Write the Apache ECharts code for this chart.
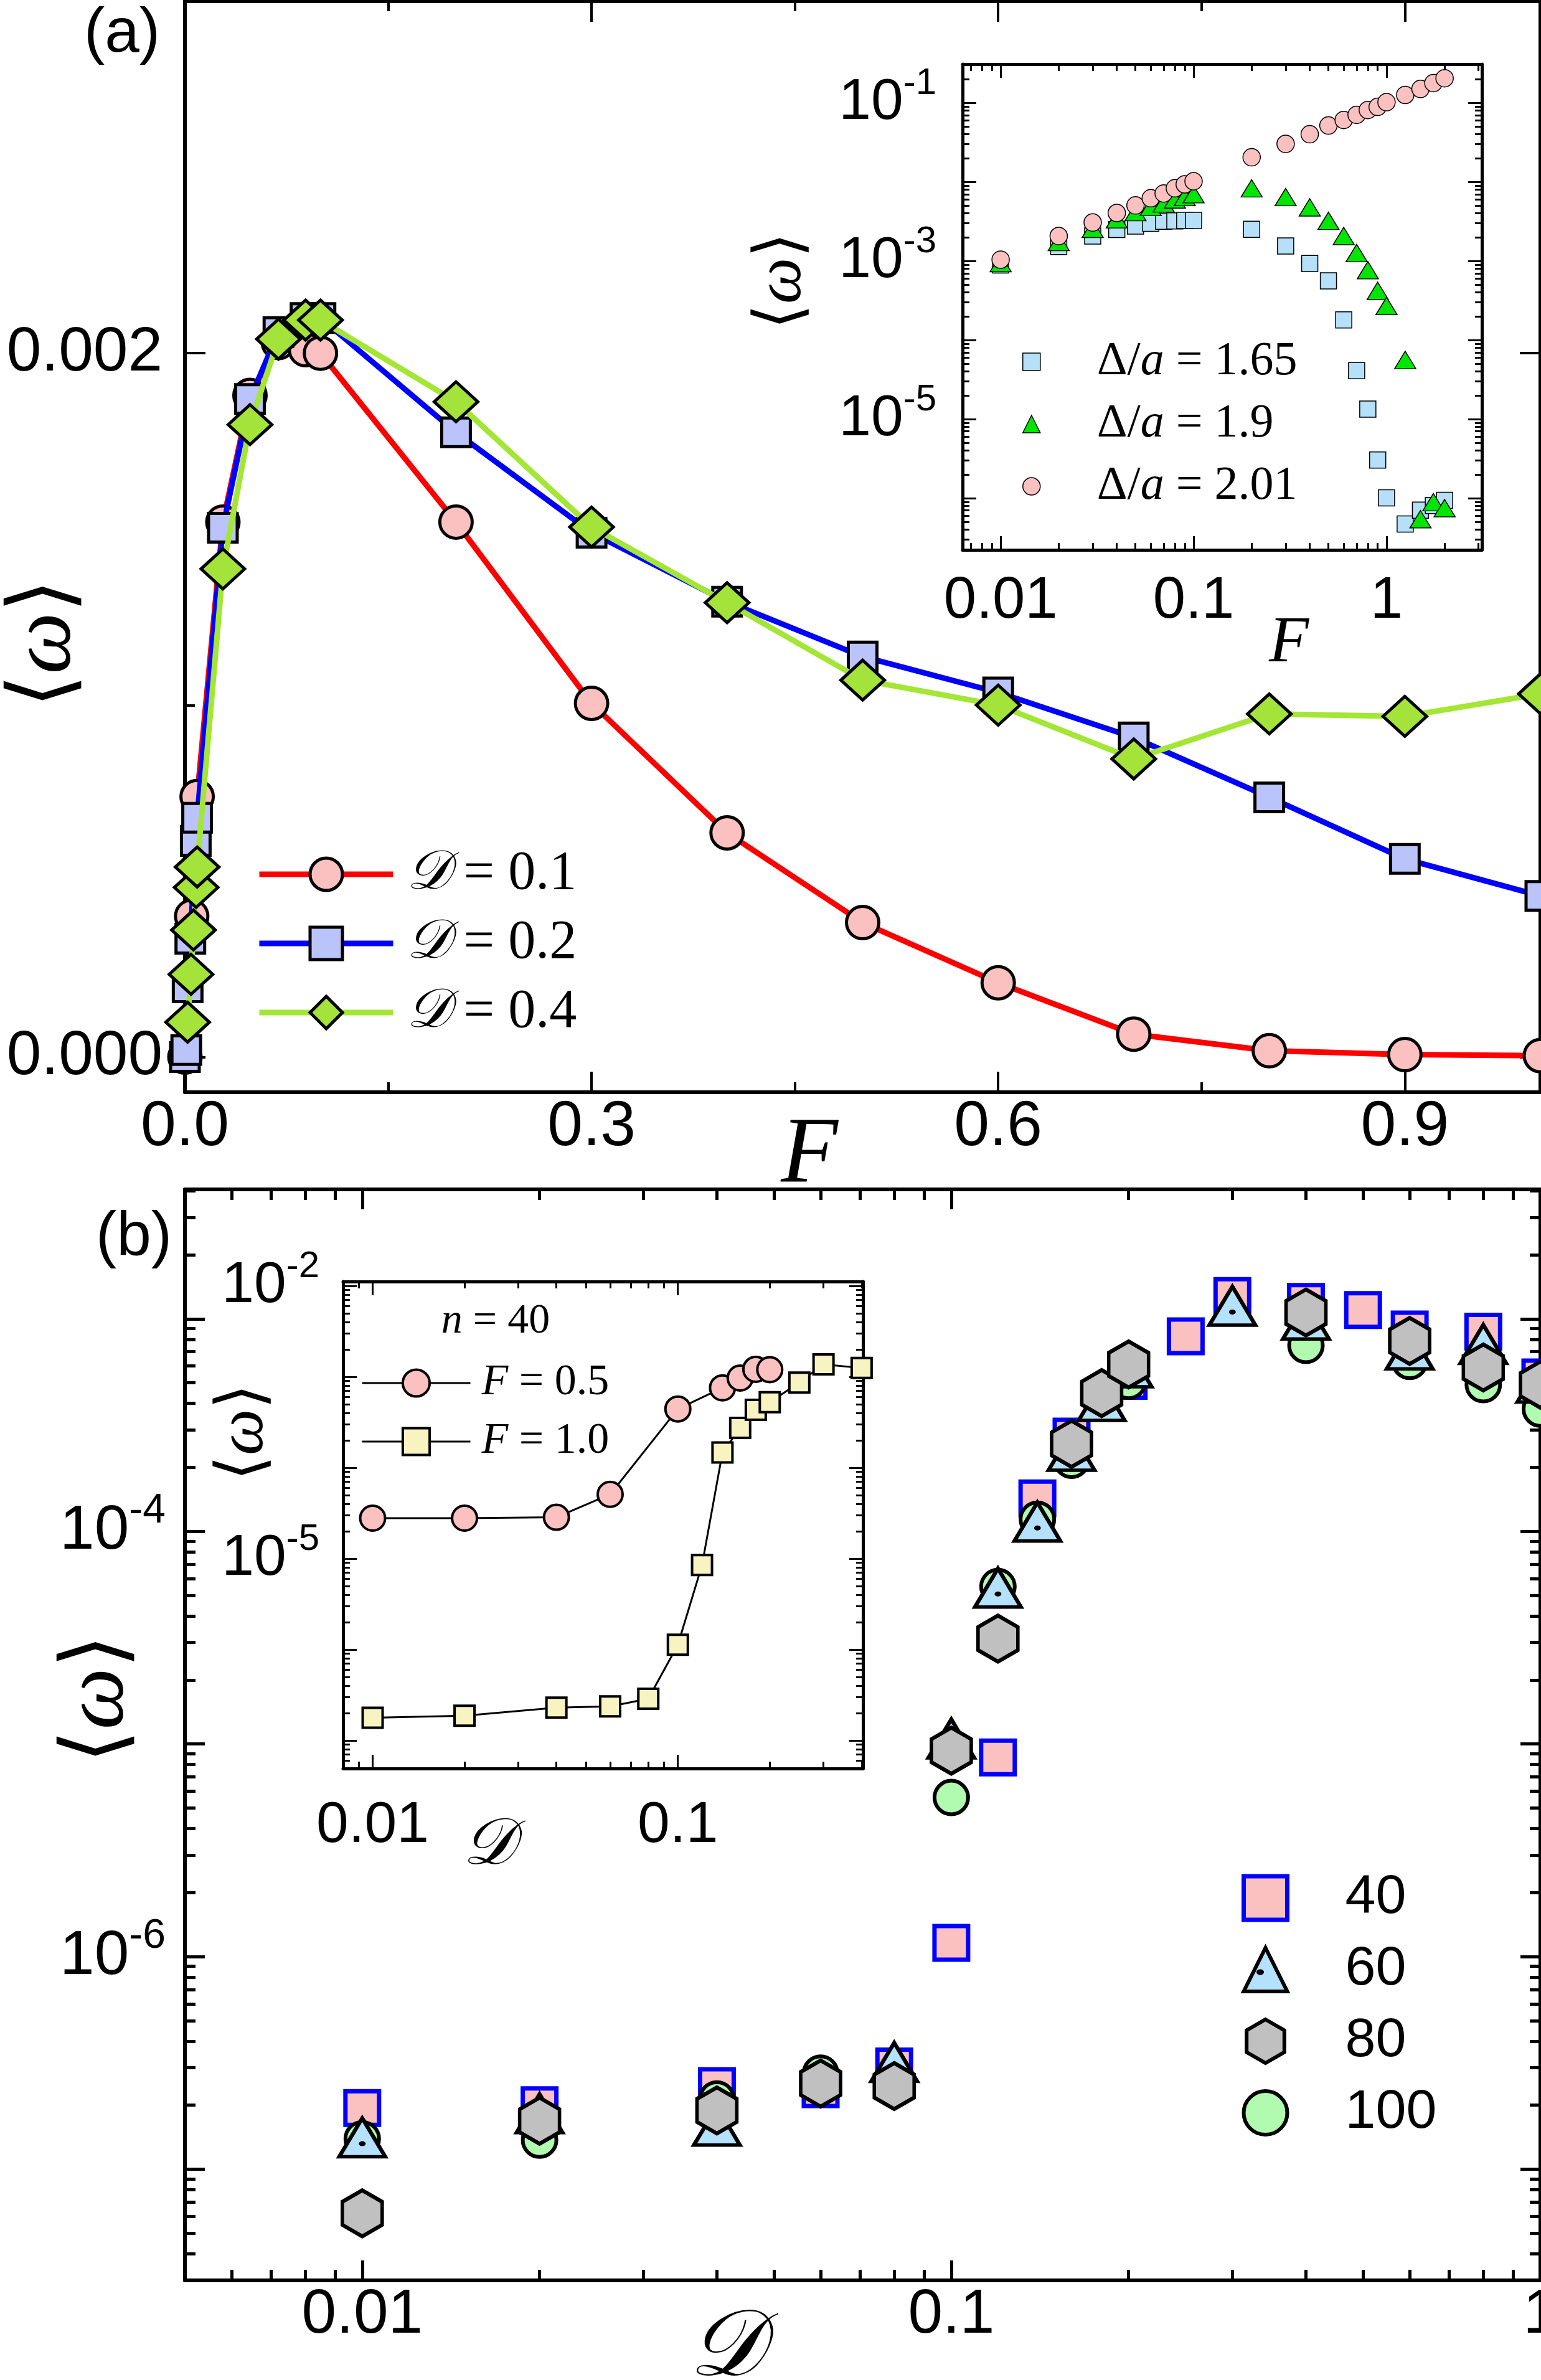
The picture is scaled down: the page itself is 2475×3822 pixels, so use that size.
<!DOCTYPE html>
<html>
<head>
<meta charset="utf-8">
<script src="https://cdn.jsdelivr.net/npm/echarts@6/dist/echarts.min.js"></script>
<style>
html, body { margin: 0; padding: 0; background: #fff; }
#chart { width: 2475px; height: 3822px; }
</style>
</head>
<body>
<div id="chart"></div>
<script>
// ---- panel (a), main: <w> against F for three D values ----
const fRed   = [0, 0.005, 0.009, 0.028, 0.048, 0.069, 0.089, 0.1, 0.2, 0.3, 0.4, 0.5, 0.6, 0.7, 0.8, 0.9, 1.0];
const wRed   = [0.0, 0.00040, 0.00074, 0.00152, 0.00188, 0.00203, 0.00201, 0.00200, 0.00152, 0.001005, 0.000637, 0.000382, 0.000211, 0.000065, 0.000018, 0.000007, 0.000004];
const fBlue  = [0, 0.001, 0.002, 0.004, 0.008, 0.009, 0.028, 0.048, 0.069, 0.089, 0.1, 0.2, 0.3, 0.4, 0.5, 0.6, 0.7, 0.8, 0.9, 1.0];
const wBlue  = [0.0, 0.00002, 0.000198, 0.000336, 0.000614, 0.00068, 0.001504, 0.00187, 0.00206, 0.0021, 0.0021, 0.001775, 0.00149, 0.001294, 0.001138, 0.001036, 0.000908, 0.000738, 0.000563, 0.000458];
const fGreen = [0.002, 0.0045, 0.0063, 0.0083, 0.009, 0.028, 0.048, 0.069, 0.089, 0.1, 0.2, 0.3, 0.4, 0.5, 0.6, 0.7, 0.8, 0.9, 1.0];
const wGreen = [0.000099, 0.000235, 0.000361, 0.000482, 0.00054, 0.001387, 0.001797, 0.00204, 0.002094, 0.002094, 0.001862, 0.001506, 0.001291, 0.001071, 0.001, 0.000847, 0.000975, 0.000968, 0.001032];

// ---- panel (a), inset: log-log, three Delta/a values ----
const fInset = [0.01, 0.02, 0.03, 0.04, 0.05, 0.06, 0.07, 0.08, 0.09, 0.1, 0.2, 0.3, 0.4, 0.5, 0.6, 0.7, 0.8, 0.9, 1.0, 1.25, 1.5, 1.75, 2.0];
const w165 = [8.9e-4, 1.53e-3, 2.07e-3, 2.5e-3, 2.77e-3, 3.0e-3, 3.18e-3, 3.22e-3, 3.26e-3, 3.26e-3, 2.52e-3, 1.55e-3, 9.3e-4, 5.6e-4, 1.8e-4, 4.1e-5, 1.34e-5, 3.04e-6, 1.01e-6, 4.71e-7, 7.06e-7, 8.1e-7, 9.4e-7];
const w190 = [9.4e-4, 1.74e-3, 2.55e-3, 3.37e-3, 4.15e-3, 4.82e-3, 5.35e-3, 6.01e-3, 6.44e-3, 6.99e-3, 8.3e-3, 6.44e-3, 4.77e-3, 3.22e-3, 2.07e-3, 1.26e-3, 7.65e-4, 4.2e-4, 2.7e-4, 5.6e-5, 5.42e-7, 8.9e-7, 7.48e-7];
const w201 = [1.04e-3, 2.07e-3, 3.07e-3, 4.05e-3, 5.05e-3, 6.22e-3, 7.15e-3, 8.31e-3, 9.33e-3, 1.02e-2, 2.05e-2, 3.03e-2, 4.01e-2, 5.17e-2, 6.08e-2, 7.06e-2, 8.12e-2, 8.91e-2, 0.102, 0.126, 0.15, 0.178, 0.205];

// ---- panel (b), main: <w> against D for four n ----
const d40  = [0.01, 0.02, 0.04, 0.06, 0.08, 0.1, 0.12, 0.14, 0.16, 0.2, 0.25, 0.3, 0.4, 0.5, 0.6, 0.8, 1.0];
const w40  = [1.94e-7, 2.0e-7, 2.46e-7, 2.38e-7, 3.04e-7, 1.16e-6, 8.65e-6, 1.43e-4, 2.79e-4, 5.1e-4, 8.26e-4, 1.28e-3, 1.2e-3, 1.1e-3, 8.9e-4, 8.7e-4, 5.3e-4];
const d60  = [0.01, 0.02, 0.04, 0.08, 0.1, 0.12, 0.14, 0.16, 0.18, 0.2, 0.3, 0.4, 0.6, 0.8, 1.0];
const w60  = [1.41e-7, 1.83e-7, 1.6e-7, 3.19e-7, 1.06e-5, 5.43e-5, 1.11e-4, 2.39e-4, 4.1e-4, 5.9e-4, 1.15e-3, 9.9e-4, 7.16e-4, 7.6e-4, 5.0e-4];
const d80  = [0.01, 0.02, 0.04, 0.06, 0.08, 0.1, 0.12, 0.16, 0.18, 0.2, 0.4, 0.6, 0.8, 1.0];
const w80  = [6.2e-8, 1.69e-7, 1.89e-7, 2.53e-7, 2.46e-7, 9.3e-6, 3.13e-5, 2.58e-4, 4.47e-4, 6.1e-4, 1.07e-3, 7.87e-4, 5.9e-4, 4.9e-4];
const d100 = [0.01, 0.02, 0.04, 0.06, 0.1, 0.12, 0.14, 0.16, 0.2, 0.4, 0.6, 0.8, 1.0];
const w100 = [1.39e-7, 1.37e-7, 2.14e-7, 2.83e-7, 5.6e-6, 5.5e-5, 1.14e-4, 2.16e-4, 5.08e-4, 7.5e-4, 6.3e-4, 4.9e-4, 3.76e-4];

// ---- panel (b), inset: n = 40, two F values ----
const dF05 = [0.01, 0.02, 0.04, 0.06, 0.1, 0.14, 0.16, 0.18, 0.2];
const wF05 = [2.79e-5, 2.79e-5, 2.85e-5, 5.1e-5, 4.43e-4, 7.57e-4, 9.7e-4, 1.21e-3, 1.2e-3];
const dF10 = [0.01, 0.02, 0.04, 0.06, 0.08, 0.1, 0.12, 0.14, 0.16, 0.18, 0.2, 0.25, 0.3, 0.4];
const wF10 = [1.78e-7, 1.87e-7, 2.3e-7, 2.37e-7, 2.88e-7, 1.13e-6, 8.5e-6, 1.47e-4, 2.74e-4, 4.34e-4, 5.26e-4, 8.66e-4, 1.37e-3, 1.25e-3];

// tick positions and labels
const xTicksA = [0, 0.3, 0.6, 0.9];
const xMinorA = [0.15, 0.45, 0.75];
const yTicksA = [0, 0.002];
const yMinorA = [0.001];
const xLabelsLog = [0.01, 0.1, 1];

const SANS = 'Liberation Sans';
const SERIF = 'Liberation Serif';

function pairs(xs, ys) { return xs.map((x, i) => [x, ys[i]]); }

function logMajors(lo, hi) {
  const out = [];
  for (let e = Math.ceil(Math.log10(lo) - 1e-9); e <= Math.floor(Math.log10(hi) + 1e-9); e++) out.push(Number('1e' + e));
  return out;
}
function logMinors(lo, hi) {
  const out = [];
  for (let e = Math.floor(Math.log10(lo)); e <= Math.floor(Math.log10(hi)); e++) {
    for (let k = 2; k <= 9; k++) {
      const v = Number(k + 'e' + e);
      if (v > lo && v < hi) out.push(v);
    }
  }
  return out;
}

function powLabel(vals, base, sup, margin) {
  return {
    show: true, customValues: vals, margin: margin, color: '#000',
    formatter: v => '{b|10}{s|' + Math.round(Math.log10(v)) + '}',
    rich: {
      b: { fontSize: base, fontFamily: SANS, color: '#000', lineHeight: Math.round(base * 1.3) },
      s: { fontSize: sup, fontFamily: SANS, color: '#000', verticalAlign: 'top', lineHeight: Math.round(sup * 0.92) }
    }
  };
}

// four axes per direction: labelled main, its minor ticks, mirrored side, mirrored minor ticks
function axisQuad(dim, gi, base, majors, minors, st, label) {
  const pos = dim === 'x' ? ['bottom', 'top'] : ['left', 'right'];
  const mk = (p, vals, len, withLine, lab) => Object.assign({}, base, {
    gridIndex: gi, position: p,
    axisLine: { show: withLine, onZero: false, lineStyle: { color: '#000', width: st.line } },
    axisTick: { show: true, inside: true, length: len, customValues: vals, lineStyle: { color: '#000', width: st.tick } },
    axisLabel: lab || { show: false },
    splitLine: { show: false },
    minorTick: { show: false }
  });
  return [
    mk(pos[0], majors, st.major, true, label),
    mk(pos[0], minors, st.minor, false),
    mk(pos[1], majors, st.major, true),
    mk(pos[1], minors, st.minor, false)
  ];
}

const stMain = { line: 6, tick: 4, major: 33, minor: 16 };
const stInset = { line: 5, tick: 3, major: 22, minor: 11 };

// axis ranges
const aX = { type: 'value', min: 0, max: 1.0 };
const aY = { type: 'value', min: -0.0001, max: 0.003 };
const iaX = { type: 'log', logBase: 10, min: 0.00635, max: 3.12 };
const iaY = { type: 'log', logBase: 10, min: 2.22e-7, max: 0.309 };
const bX = { type: 'log', logBase: 10, min: 0.005, max: 1 };
const bY = { type: 'log', logBase: 10, min: 3.0e-8, max: 4.06e-3 };
const ibX = { type: 'log', logBase: 10, min: 0.008, max: 0.404 };
const ibY = { type: 'log', logBase: 10, min: 4.92e-8, max: 0.01117 };

const xAxes = [].concat(
  axisQuad('x', 0, aX, xTicksA, xMinorA, stMain,
    { show: true, customValues: xTicksA, formatter: v => v.toFixed(1), margin: 6, fontSize: 102, fontFamily: SANS, color: '#000' }),
  axisQuad('x', 1, iaX, logMajors(iaX.min, iaX.max), logMinors(iaX.min, iaX.max), stInset,
    { show: true, customValues: xLabelsLog, formatter: v => String(v), margin: 36, fontSize: 94, fontFamily: SANS, color: '#000' }),
  axisQuad('x', 2, bX, logMajors(bX.min, bX.max), logMinors(bX.min, bX.max), { line: 6, tick: 5, major: 32, minor: 17 },
    { show: true, customValues: xLabelsLog, formatter: v => String(v), margin: 6, fontSize: 100, fontFamily: SANS, color: '#000' }),
  axisQuad('x', 3, ibX, logMajors(ibX.min, ibX.max), logMinors(ibX.min, ibX.max), stInset,
    { show: true, customValues: [0.01, 0.1], formatter: v => String(v), margin: 46, fontSize: 93, fontFamily: SANS, color: '#000' })
);
const yAxes = [].concat(
  axisQuad('y', 0, aY, yTicksA, yMinorA, stMain,
    { show: true, customValues: yTicksA, formatter: v => v.toFixed(3), margin: 36, fontSize: 100, fontFamily: SANS, color: '#000' }),
  axisQuad('y', 1, iaY, logMajors(iaY.min, iaY.max), logMinors(iaY.min, iaY.max), stInset,
    powLabel([1e-1, 1e-3, 1e-5], 93, 60, 42)),
  axisQuad('y', 2, bY, logMajors(bY.min, bY.max), logMinors(bY.min, bY.max), { line: 6, tick: 5, major: 32, minor: 17 },
    powLabel([1e-4, 1e-6], 100, 66, 31)),
  axisQuad('y', 3, ibY, logMajors(ibY.min, ibY.max), logMinors(ibY.min, ibY.max), stInset,
    powLabel([1e-2, 1e-5], 93, 60, 38))
);

const hexagon = 'path://M0,-100 L86.6,-50 L86.6,50 L0,100 L-86.6,50 L-86.6,-50 Z';

const richMath = (size, lh) => ({
  i: { fontFamily: SERIF, fontStyle: 'italic', fontSize: size, color: '#000', lineHeight: lh },
  r: { fontFamily: SERIF, fontSize: size, color: '#000', lineHeight: lh }
});

const legendNames = {
  'D01': '{i|𝒟}{r| = 0.1}', 'D02': '{i|𝒟}{r| = 0.2}', 'D04': '{i|𝒟}{r| = 0.4}',
  'A165': '{r|Δ/}{i|a}{r| = 1.65}', 'A190': '{r|Δ/}{i|a}{r| = 1.9}', 'A201': '{r|Δ/}{i|a}{r| = 2.01}',
  'F05': '{i|F}{r| = 0.5}', 'F10': '{i|F}{r| = 1.0}',
  'n40': '40', 'n60': '60', 'n80': '80', 'n100': '100'
};

// marker look: solid fill (scatter defaults to 0.8 opacity otherwise)
const mark = (fill, border, bw) => ({ color: fill, borderColor: border, borderWidth: bw, opacity: 1 });

const LW = 9;
const series = [
  // (a) main
  { name: 'D01', type: 'line', xAxisIndex: 0, yAxisIndex: 0, data: pairs(fRed, wRed),
    symbol: 'circle', symbolSize: 52, lineStyle: { color: '#ff0000', width: LW },
    itemStyle: mark('#fbc0c0', '#000', 5), z: 2 },
  { name: 'D02', type: 'line', xAxisIndex: 0, yAxisIndex: 0, data: pairs(fBlue, wBlue),
    symbol: 'rect', symbolSize: 46, lineStyle: { color: '#0000ff', width: LW },
    itemStyle: mark('#bac4fa', '#000', 5), z: 3 },
  { name: 'D04', type: 'line', xAxisIndex: 0, yAxisIndex: 0, data: pairs(fGreen, wGreen),
    symbol: 'diamond', symbolSize: [70, 64], lineStyle: { color: '#a3e635', width: LW },
    itemStyle: mark('#a3e33a', '#000', 5), z: 4 },
  // (a) inset
  { name: 'A165', type: 'scatter', xAxisIndex: 4, yAxisIndex: 4, data: pairs(fInset, w165),
    symbol: 'rect', symbolSize: 26, itemStyle: mark('#b5e0f8', '#000', 1.5), z: 3 },
  { name: 'A190', type: 'scatter', xAxisIndex: 4, yAxisIndex: 4, data: pairs(fInset, w190),
    symbol: 'triangle', symbolSize: [34, 28], itemStyle: mark('#00e600', '#000', 1.5), z: 4 },
  { name: 'A201', type: 'scatter', xAxisIndex: 4, yAxisIndex: 4, data: pairs(fInset, w201),
    symbol: 'circle', symbolSize: 28, itemStyle: mark('#fbc0c0', '#000', 1.5), z: 5 },
  // (b) main
  { name: 'n40', type: 'scatter', xAxisIndex: 8, yAxisIndex: 8, data: pairs(d40, w40),
    symbol: 'rect', symbolSize: 54, itemStyle: mark('#fbc1c1', '#0000ff', 7), z: 2 },
  { name: 'n60', type: 'scatter', xAxisIndex: 8, yAxisIndex: 8, data: pairs(d60, w60),
    symbol: 'triangle', symbolSize: [74, 62], itemStyle: mark('#b4e1fb', '#000', 6), z: 4 },
  { name: 'n60dot', type: 'scatter', xAxisIndex: 8, yAxisIndex: 8, data: pairs(d60, w60),
    symbol: 'circle', symbolSize: [11, 8], symbolOffset: [0, 10], itemStyle: { color: '#000', opacity: 1 }, z: 4, silent: true },
  { name: 'n80', type: 'scatter', xAxisIndex: 8, yAxisIndex: 8, data: pairs(d80, w80),
    symbol: hexagon, symbolSize: [64, 74], itemStyle: mark('#c0c0c0', '#000', 6), z: 5 },
  { name: 'n100', type: 'scatter', xAxisIndex: 8, yAxisIndex: 8, data: pairs(d100, w100),
    symbol: 'circle', symbolSize: 54, itemStyle: mark('#b0fbb0', '#000', 6), z: 3 },
  // (b) inset
  { name: 'F05', type: 'line', xAxisIndex: 12, yAxisIndex: 12, data: pairs(dF05, wF05),
    symbol: 'circle', symbolSize: 40, lineStyle: { color: '#000', width: 3 },
    itemStyle: mark('#fbc0c0', '#000', 4), z: 3 },
  { name: 'F10', type: 'line', xAxisIndex: 12, yAxisIndex: 12, data: pairs(dF10, wF10),
    symbol: 'rect', symbolSize: 32, lineStyle: { color: '#000', width: 3 },
    itemStyle: mark('#f7f4c2', '#000', 4), z: 4 }
];

// legend entries carry their own border width so the icons keep the heavy outlines
const legendItem = (name, bw) => ({ name: name, itemStyle: { borderWidth: bw } });

const legends = [
  { data: [legendItem('D01', 5), legendItem('D02', 5), legendItem('D04', 5)],
    orient: 'vertical', left: 407, top: 1355, itemWidth: 215, itemHeight: 65, itemGap: 23,
    selectedMode: false, formatter: n => legendNames[n], lineStyle: { width: LW },
    textStyle: { padding: [0, 0, 0, 16], rich: richMath(88, 65) } },
  { data: [legendItem('A165', 1.5), legendItem('A190', 1.5), legendItem('A201', 1.5)],
    orient: 'vertical', left: 1637, top: 538, itemWidth: 28, itemHeight: 28, itemGap: 24,
    selectedMode: false, formatter: n => legendNames[n],
    textStyle: { padding: [0, 0, 0, 86], rich: richMath(76, 28) } },
  { data: [legendItem('n40', 7), legendItem('n60', 6), legendItem('n80', 6), legendItem('n100', 6)],
    orient: 'vertical', left: 1989, top: 2999, itemWidth: 70, itemHeight: 70, itemGap: 27,
    selectedMode: false, formatter: n => legendNames[n],
    textStyle: { fontFamily: SANS, fontSize: 88, color: '#000', lineHeight: 70, padding: [0, 0, 0, 88] } },
  { data: [legendItem('F05', 4), legendItem('F10', 4)],
    orient: 'vertical', left: 575, top: 2181, itemWidth: 174, itemHeight: 54, itemGap: 24,
    selectedMode: false, formatter: n => legendNames[n], lineStyle: { width: 3 },
    textStyle: { padding: [0, 0, 0, 13], rich: richMath(70, 54) } }
];

function txt(x, y, text, size, family, opts) {
  return Object.assign({ type: 'text', x: x, y: y, z: 100,
    style: Object.assign({ text: text, fontSize: size, fontFamily: family, fill: '#000', textAlign: 'center', textVerticalAlign: 'middle' }, (opts && opts.style) || {}) },
    (opts && opts.el) || {});
}
const bracketW = '{r|⟨}{i|ω}{r|⟩}';
const graphic = [
  txt(196, 55, '(a)', 100, SANS),
  txt(215, 1988, '(b)', 100, SANS),
  txt(75, 1033, bracketW, 140, SERIF, { el: { rotation: Math.PI / 2 }, style: { rich: richMath(140, 150) } }),
  txt(160, 2728, bracketW, 140, SERIF, { el: { rotation: Math.PI / 2 }, style: { rich: richMath(140, 150) } }),
  txt(1300, 1858, 'F', 150, SERIF, { style: { fontStyle: 'italic' } }),
  txt(1166, 3775, '𝒟', 150, SERIF, { style: { fontStyle: 'italic' } }),
  txt(2070, 1034, 'F', 105, SERIF, { style: { fontStyle: 'italic' } }),
  txt(1257, 451, bracketW, 105, SERIF, { el: { rotation: Math.PI / 2 }, style: { rich: richMath(105, 115) } }),
  txt(785, 2965, '𝒟', 105, SERIF, { style: { fontStyle: 'italic' } }),
  txt(393, 2300, bracketW, 105, SERIF, { el: { rotation: Math.PI / 2 }, style: { rich: richMath(105, 115) } }),
  txt(796, 2122, '{i|n}{r| = 40}', 68, SERIF, { style: { rich: richMath(68, 70) } }),
  // centre dot of the triangle glyph in the (b) legend
  { type: 'ellipse', shape: { cx: 2024, cy: 3167, rx: 6, ry: 4.5 }, style: { fill: '#000' }, z: 100 }
];

const chart = echarts.init(document.getElementById('chart'), null, { renderer: 'canvas' });
chart.setOption({
  animation: false,
  backgroundColor: '#fff',
  grid: [
    { left: 297, top: 2, width: 2177, height: 1752, outerBoundsMode: 'none' },
    { left: 1546, top: 103, width: 834, height: 780, outerBoundsMode: 'none' },
    { left: 297, top: 1910, width: 2177, height: 1752, outerBoundsMode: 'none' },
    { left: 551, top: 2058, width: 835, height: 782, outerBoundsMode: 'none' }
  ],
  xAxis: xAxes,
  yAxis: yAxes,
  legend: legends,
  series: series,
  graphic: graphic
});
</script>
</body>
</html>
